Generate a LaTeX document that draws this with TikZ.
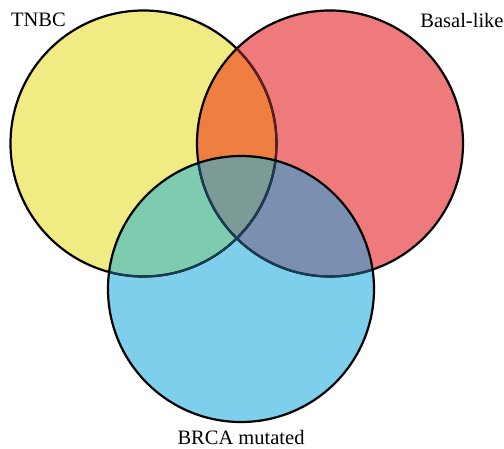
\documentclass[tikz,border=0pt]{standalone}
\usepackage{fontspec}
\setmainfont{Liberation Serif}
\definecolor{tnbcyellow}{RGB}{241, 235, 132}
\definecolor{basalred}{RGB}{239, 122, 124}
\definecolor{brcablue}{RGB}{125, 207, 236}
\definecolor{tbover}{RGB}{239, 127, 64}
\definecolor{tcover}{RGB}{126, 203, 175}
\definecolor{bcover}{RGB}{123, 144, 176}
\definecolor{allover}{RGB}{124, 154, 150}
\definecolor{edgered}{RGB}{90, 30, 30}
\definecolor{edgenavy}{RGB}{25, 60, 85}
\newcommand{\setrad}{133pt}
\begin{document}
\begin{tikzpicture}[x=1pt, y=-1pt,
  setdisc/.style={circle, minimum size=266pt, inner sep=0pt, draw=none},
  edge/.style={line width=2.2pt},
  setname/.style={font=\fontsize{20.5}{23}\selectfont, inner sep=0pt}
]
  \useasboundingbox (0,0) rectangle (504,449);

  % Sets
  \node[setdisc, fill=tnbcyellow] (tnbc) at (143.5, 143.5) {};
  \node[setdisc, fill=basalred] (basal) at (330, 143.5) {};
  \node[setdisc, fill=brcablue] (brca) at (241, 289) {};

  % Overlaps
  \begin{scope}
    \clip (tnbc.center) circle (\setrad);
    \fill[tbover] (basal.center) circle (\setrad);
    \fill[tcover] (brca.center) circle (\setrad);
  \end{scope}
  \begin{scope}
    \clip (basal.center) circle (\setrad);
    \fill[bcover] (brca.center) circle (\setrad);
    \clip (tnbc.center) circle (\setrad);
    \fill[allover] (brca.center) circle (\setrad);
  \end{scope}

  % Outlines
  \draw[edge] (tnbc.center) circle (\setrad);
  \draw[edge] (basal.center) circle (\setrad);
  \begin{scope}
    \clip (basal.center) circle (\setrad);
    \draw[edge, edgered] (tnbc.center) circle (\setrad);
  \end{scope}
  \begin{scope}
    \clip (brca.center) circle (\setrad);
    \draw[edge, edgenavy] (tnbc.center) circle (\setrad);
    \draw[edge, edgenavy] (basal.center) circle (\setrad);
  \end{scope}
  \draw[edge] (brca.center) circle (\setrad);

  % Labels
  \node[setname] (tnbclabel) at (38.5, 19.5) {TNBC};
  \node[setname] (basallabel) at (462, 20) {Basal-like};
  \node[setname] (brcalabel) at (241, 437) {BRCA mutated};
\end{tikzpicture}
\end{document}
